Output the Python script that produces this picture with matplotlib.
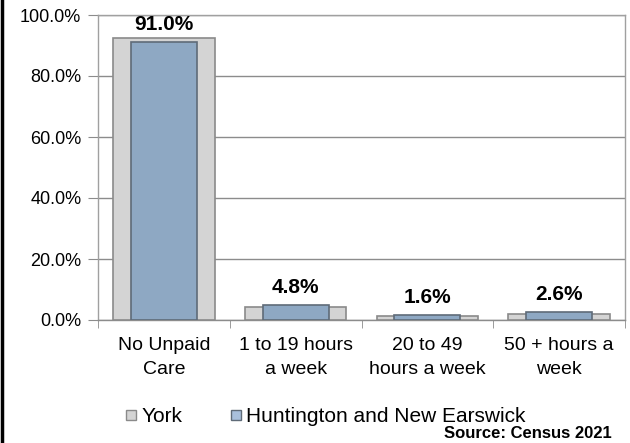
import matplotlib.pyplot as plt
from matplotlib.lines import Line2D
import numpy as np

# Datos
categorias = ['No Unpaid\nCare', '1 to 19 hours\na week', '20 to 49\nhours a week', '50 + hours a\nweek']
york = [92.4, 4.3, 1.3, 2.0]
huntington = [91.0, 4.8, 1.6, 2.6]
etiquetas = ['91.0%', '4.8%', '1.6%', '2.6%']

plt.rcParams['font.family'] = ['Liberation Sans', 'DejaVu Sans']

fig = plt.figure(figsize=(6.3, 4.43), dpi=100)
ax = fig.add_axes([98/630, 1 - 320/443, 527/630, 305/443])

x = np.arange(len(categorias))
ax.bar(x, york, width=0.77, color='#d4d4d4', edgecolor='#8a8a8a', linewidth=1.2, label='York', zorder=3)
ax.bar(x, huntington, width=0.5, color='#8ea8c3', edgecolor='#5f6b78', linewidth=1.2,
       label='Huntington and New Earswick', zorder=4)

for i, t in enumerate(etiquetas):
    ax.annotate(t, (x[i], huntington[i]), xytext=(0, 6), textcoords='offset points',
                ha='center', va='bottom', fontsize=15, fontweight='bold', zorder=5)

ax.set_xlim(-0.5, len(categorias) - 0.5)
ax.set_ylim(0, 100)
ax.set_yticks([0, 20, 40, 60, 80, 100])
ax.set_yticklabels(['%.1f%%' % v for v in [0, 20, 40, 60, 80, 100]], fontsize=13)
ax.yaxis.grid(True, color='#8c8c8c', linewidth=1, zorder=0)
ax.tick_params(axis='y', length=7, color='#8c8c8c', pad=5)

# etiquetas de categoria centradas, marcas en los limites
ax.set_xticks(x)
ax.set_xticklabels(categorias, fontsize=14, linespacing=1.55)
ax.tick_params(axis='x', which='major', length=0, pad=12)
ax.set_xticks(np.arange(-0.5, len(categorias)), minor=True)
ax.tick_params(axis='x', which='minor', length=6, color='#8c8c8c')

for s in ax.spines.values():
    s.set_color('#a0a0a0')
    s.set_linewidth(1)
ax.spines['bottom'].set_color('#8c8c8c')

handles = [
    Line2D([], [], marker='s', linestyle='none', markersize=7.5, markerfacecolor='#d4d4d4',
           markeredgecolor='#8a8a8a', label='York'),
    Line2D([], [], marker='s', linestyle='none', markersize=7.5, markerfacecolor='#a9c0dc',
           markeredgecolor='#5f6b78', label='Huntington and New Earswick'),
]
fig.legend(handles=handles, loc='center', bbox_to_anchor=(326/630, 1 - 417/443), ncol=2,
           frameon=False, fontsize=15, handletextpad=0.25, columnspacing=2.3, handlelength=0.5,
           borderpad=0, borderaxespad=0)

fig.text(612/630, 1 - 433/443, 'Source: Census 2021', ha='right', va='center',
         fontsize=12, fontweight='bold')

# borde negro a la izquierda
fig.add_artist(Line2D([1.5/630, 1.5/630], [0, 1], color='black', linewidth=2.5,
                      transform=fig.transFigure))

fig.savefig('out.png', dpi=100)
